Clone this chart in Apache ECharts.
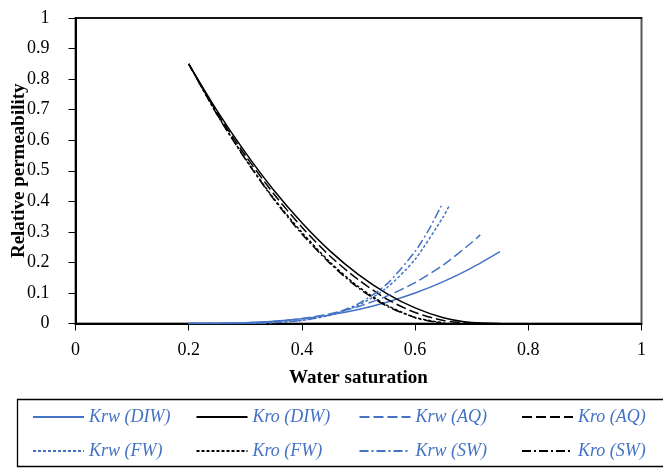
<!DOCTYPE html>
<html>
<head>
<meta charset="utf-8">
<script src="https://cdn.jsdelivr.net/npm/echarts@6/dist/echarts.min.js"></script>
<style>
  html, body { margin: 0; padding: 0; background: #fff; }
  #myChart { width: 663px; height: 468px; }
</style>
</head>
<body>
<div id="myChart"></div>
<script>
// water saturation points for each fluid
const swDIW = [0.2, 0.25, 0.3, 0.35, 0.4, 0.45, 0.5, 0.55, 0.6, 0.65, 0.7, 0.75];
const swAQ = [0.2, 0.25, 0.3, 0.35, 0.4, 0.45, 0.5, 0.55, 0.6, 0.65, 0.7, 0.715];
const swFW = [0.2, 0.25, 0.3, 0.35, 0.4, 0.45, 0.5, 0.55, 0.6, 0.65, 0.66];
const swSW = [0.2, 0.25, 0.3, 0.35, 0.4, 0.45, 0.5, 0.55, 0.6, 0.625, 0.647];

const krwDIW = [0, 0.0004, 0.0024, 0.0071, 0.0154, 0.0282, 0.046, 0.0697, 0.0997, 0.137, 0.182, 0.235];
const kroDIW = [0.85, 0.697, 0.56, 0.437, 0.33, 0.237, 0.16, 0.098, 0.051, 0.019, 0.003, 0];
const krwAQ = [0, 0.0003, 0.0019, 0.0067, 0.0162, 0.032, 0.0558, 0.0895, 0.134, 0.192, 0.265, 0.29];
const kroAQ = [0.85, 0.69, 0.55, 0.425, 0.315, 0.22, 0.143, 0.08, 0.036, 0.01, 0.0005, 0];
const krwFW = [0, 0.0001, 0.0005, 0.0029, 0.0103, 0.0271, 0.06, 0.117, 0.21, 0.35, 0.385];
const kroFW = [0.85, 0.685, 0.54, 0.41, 0.298, 0.2, 0.12, 0.06, 0.02, 0.002, 0];
const krwSW = [0, 0.0001, 0.0005, 0.0029, 0.0104, 0.0285, 0.065, 0.129, 0.236, 0.31, 0.388];
const kroSW = [0.85, 0.684, 0.538, 0.407, 0.293, 0.196, 0.116, 0.057, 0.019, 0.008, 0.002];

const xTicks = [0, 0.2, 0.4, 0.6, 0.8, 1];

const BLUE = "#4472C4";
const FONT = "Liberation Serif";

function pairs(xs, ys) {
  return xs.map((x, i) => [x, ys[i]]);
}

function line(name, xs, ys, color, dash) {
  return {
    name: name,
    type: "line",
    data: pairs(xs, ys),
    smooth: 0.25,
    symbol: "none",
    lineStyle: { color: color, width: 1.5, type: dash },
    itemStyle: { color: color }
  };
}

const LONG = [10, 4];
const DOT = [3, 2];
const DASHDOT = [9, 3, 2, 3];

let legendText = { color: BLUE, fontStyle: "italic", fontFamily: FONT, fontSize: 18 };
function legendCol(left, names) {
  return {
    orient: "vertical",
    left: left,
    top: 408,
    padding: 0,
    itemWidth: 51,
    itemHeight: 18,
    itemGap: 16,
    itemStyle: { opacity: 0 },
    textStyle: legendText,
    data: names
  };
}

let chart = echarts.init(document.getElementById("myChart"));
let option = {
  animation: false,
  grid: {
    left: 75.5, right: 21.5, top: 18, bottom: 144.5,
    outerBoundsMode: "none",
    containLabel: false,
    show: true, borderColor: "#595959", borderWidth: 2
  },
  xAxis: [
    {
      type: "value", min: 0, max: 1, interval: 0.2,
      name: "Water saturation", nameLocation: "middle", nameGap: 45,
      nameMoveOverlap: false,
      nameTextStyle: { fontFamily: FONT, fontWeight: "bold", fontSize: 19, color: "#000" },
      axisLine: { lineStyle: { color: "#000", width: 2 } },
      axisTick: { show: true, inside: false, length: 7, lineStyle: { color: "#000", width: 1 } },
      axisLabel: {
        margin: 18, fontFamily: FONT, fontSize: 18, color: "#000",
        formatter: v => (xTicks.indexOf(+v.toFixed(1)) >= 0 ? String(+v.toFixed(1)) : "")
      },
      splitLine: { show: false }
    },
    {
      // top border of the plot
      type: "value", position: "top", min: 0, max: 1,
      axisLine: { show: true, onZero: false, lineStyle: { color: "#000", width: 1.5 } },
      axisTick: { show: false }, axisLabel: { show: false }, splitLine: { show: false }
    }
  ],
  yAxis: {
    type: "value", min: 0, max: 1, interval: 0.1,
    name: "Relative permeability", nameLocation: "middle", nameGap: 47,
    nameMoveOverlap: false,
    nameTextStyle: { fontFamily: FONT, fontWeight: "bold", fontSize: 19, color: "#000" },
    axisLine: { show: true, lineStyle: { color: "#000", width: 2 } },
    axisTick: { show: true, inside: false, length: 7, lineStyle: { color: "#000", width: 1 } },
    axisLabel: {
      margin: 26, fontFamily: FONT, fontSize: 18, color: "#000",
      formatter: v => String(+v.toFixed(1))
    },
    splitLine: { show: false }
  },
  legend: [
    legendCol(32, ["Krw (DIW)", "Krw (FW)"]),
    legendCol(195.5, ["Kro (DIW)", "Kro (FW)"]),
    legendCol(358.5, ["Krw (AQ)", "Krw (SW)"]),
    legendCol(521, ["Kro (AQ)", "Kro (SW)"])
  ],
  graphic: [
    {
      type: "rect",
      shape: { x: 17.5, y: 399.5, width: 700, height: 67 },
      style: { fill: "none", stroke: "#000", lineWidth: 1.3 },
      silent: true
    }
  ],
  series: [
    line("Krw (DIW)", swDIW, krwDIW, BLUE, "solid"),
    line("Kro (DIW)", swDIW, kroDIW, "#000", "solid"),
    line("Krw (AQ)", swAQ, krwAQ, BLUE, LONG),
    line("Kro (AQ)", swAQ, kroAQ, "#000", LONG),
    line("Krw (FW)", swFW, krwFW, BLUE, DOT),
    line("Kro (FW)", swFW, kroFW, "#000", DOT),
    line("Krw (SW)", swSW, krwSW, BLUE, DASHDOT),
    line("Kro (SW)", swSW, kroSW, "#000", DASHDOT)
  ]
};
chart.setOption(option);
</script>
</body>
</html>
